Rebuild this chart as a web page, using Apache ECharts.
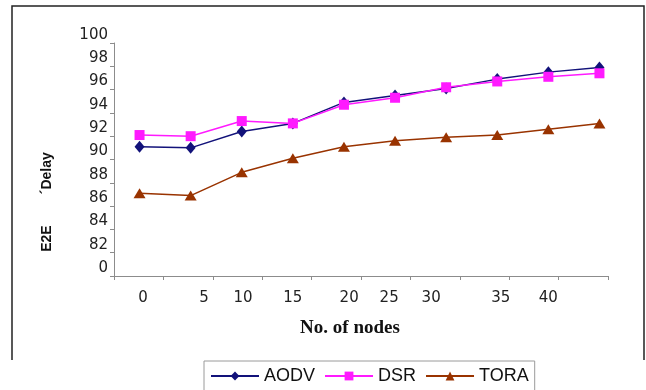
<!DOCTYPE html>
<html>
<head>
<meta charset="utf-8">
<script src="https://cdn.jsdelivr.net/npm/echarts@6/dist/echarts.min.js"></script>
<style>
  html, body { margin: 0; padding: 0; background: #fff; }
  #chart { width: 646px; height: 390px; }
</style>
</head>
<body>
<div id="chart"></div>
<script>
// sample points (10 per protocol) and the tick labels printed under the axis
var samples = ["s1", "s2", "s3", "s4", "s5", "s6", "s7", "s8", "s9", "s10"];
var nodeLabels = ["0", "5", "10", "15", "20", "25", "30", "35", "40"];
var yLabels = { 80: "0" }; // bottom tick is printed as 0

var aodv = [91.1, 91.0, 92.4, 93.1, 94.9, 95.5, 96.1, 96.9, 97.5, 97.9];
var dsr = [92.1, 92.0, 93.3, 93.1, 94.7, 95.3, 96.2, 96.7, 97.1, 97.4];
var tora = [87.1, 86.9, 88.9, 90.1, 91.1, 91.6, 91.9, 92.1, 92.6, 93.1];

// where the printed x labels sit along the tick axis (tick units)
var labelSlots = [0.59, 1.82, 2.61, 3.62, 4.76, 5.57, 6.42, 7.83, 8.79];

var chartDom = document.getElementById("chart");
var myChart = echarts.init(chartDom);

var tickFont = { fontFamily: "DejaVu Sans", fontSize: 15, color: "#222" };
var axisGray = "#8c8c8c";

var option = {
  animation: false,
  backgroundColor: "#fff",
  grid: [
    { left: 114, right: 38, top: 43, bottom: 114 },
    { left: 114, right: 21, top: 43, bottom: 114 },
  ],
  legend: {
    left: 204,
    top: 361,
    padding: [6, 6, 14, 6],
    borderColor: "#9a9a9a",
    borderWidth: 1,
    itemWidth: 48,
    itemHeight: 11,
    itemGap: 9,
    textStyle: { fontFamily: "Liberation Sans", fontSize: 18, color: "#111" },
    data: ["AODV", "DSR", "TORA"],
  },
  xAxis: [
    {
      gridIndex: 0,
      type: "value",
      min: 0,
      max: 10,
      interval: 1,
      splitLine: { show: false },
      axisLine: { lineStyle: { color: axisGray, width: 1 } },
      axisTick: { inside: false, length: 4, lineStyle: { color: axisGray } },
      axisLabel: Object.assign({}, tickFont, {
        margin: 15,
        customValues: labelSlots,
        formatter: function (v) {
          var i = labelSlots.indexOf(v);
          return i >= 0 ? nodeLabels[i] : "";
        },
      }),
      name: "No. of nodes",
      nameLocation: "middle",
      nameGap: 43,
      nameTextStyle: {
        fontFamily: "Liberation Serif",
        fontWeight: "bold",
        fontSize: 19,
        color: "#111",
        padding: [0, 22, 0, 0],
      },
    },
    {
      gridIndex: 1,
      type: "category",
      data: samples,
      show: false,
    },
  ],
  yAxis: [
    {
      gridIndex: 0,
      type: "value",
      min: 80,
      max: 100,
      interval: 2,
      splitLine: { show: false },
      axisLine: { show: true, lineStyle: { color: axisGray, width: 1 } },
      axisTick: { show: true, length: 4, lineStyle: { color: axisGray } },
      axisLabel: Object.assign({}, tickFont, {
        margin: 6,
        verticalAlign: "bottom",
        lineHeight: 16,
        formatter: function (v) {
          return yLabels[v] !== undefined ? yLabels[v] : String(v);
        },
      }),
    },
    {
      gridIndex: 1,
      type: "value",
      min: 80,
      max: 100,
      show: false,
    },
  ],
  graphic: [
    {
      type: "polyline",
      shape: { points: [[12, 360], [12, 6], [644, 6], [644, 360]] },
      style: { stroke: "#222", lineWidth: 1.5, fill: null },
      silent: true,
    },
    {
      type: "text",
      x: 47,
      y: 202,
      rotation: Math.PI / 2,
      style: {
        text: "E2E        \u00B4Delay",
        fontFamily: "Liberation Sans",
        fontWeight: "bold",
        fontSize: 14,
        fill: "#111",
        align: "center",
        verticalAlign: "middle",
      },
      silent: true,
    },
  ],
  series: [
    {
      name: "AODV",
      type: "line",
      xAxisIndex: 1,
      yAxisIndex: 1,
      data: aodv,
      symbol: "diamond",
      symbolSize: [10, 12],
      color: "#12127a",
      lineStyle: { width: 1.5 },
    },
    {
      name: "DSR",
      type: "line",
      xAxisIndex: 1,
      yAxisIndex: 1,
      data: dsr,
      symbol: "rect",
      symbolSize: 10,
      color: "#ff1aff",
      lineStyle: { width: 1.5 },
    },
    {
      name: "TORA",
      type: "line",
      xAxisIndex: 1,
      yAxisIndex: 1,
      data: tora,
      symbol: "triangle",
      symbolSize: [12, 10],
      color: "#993300",
      lineStyle: { width: 1.5 },
    },
  ],
};

option && myChart.setOption(option);
</script>
</body>
</html>
